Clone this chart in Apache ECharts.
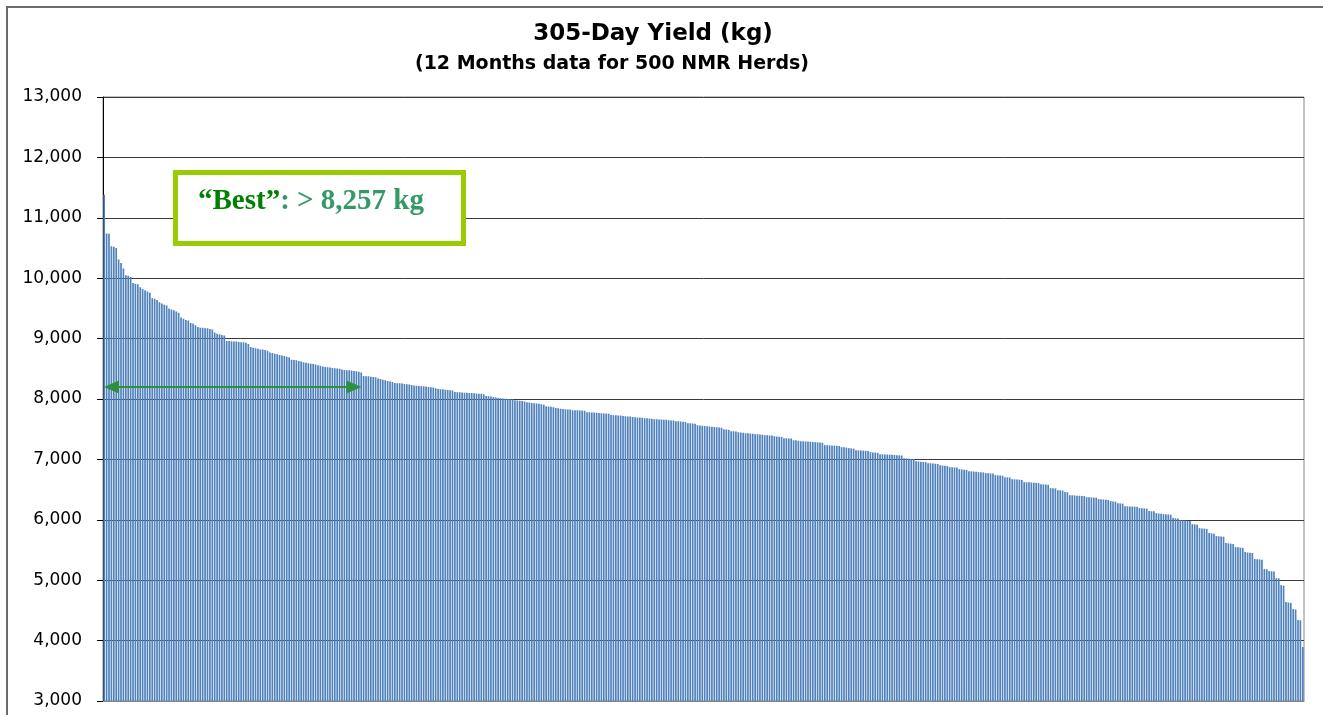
<!DOCTYPE html>
<html>
<head>
<meta charset="utf-8">
<title>305-Day Yield</title>
<script src="https://cdn.jsdelivr.net/npm/echarts@6/dist/echarts.min.js"></script>
<style>
  html, body { margin: 0; padding: 0; background: #fff; }
  #chart { width: 1323px; height: 715px; }
</style>
</head>
<body>
<div id="chart"></div>
<script>
// chart texts
const titleLines = ["305-Day Yield (kg)", "(12 Months data for 500 NMR Herds)"];
const bestLabel = "“Best”";
const bestValueText = ": > 8,257 kg";

// y axis: 3,000 .. 13,000 step 1,000
const yMin = 3000;
const yMax = 13000;
const yStep = 1000;

// the "best" arrow: from herd rank to herd rank, at this yield
const bestArrowFrom = 3;
const bestArrowTo = 104;
const bestArrowValue = 8200;

// 305-day yield per herd (kg), sorted high to low
const herdYield = [
  // 0-14
  11380, 10740, 10735, 10530, 10520, 10500, 10310, 10250, 10160, 10050, 10040, 10020, 9920, 9910, 9900,
  // 15-38
  9850, 9820, 9800, 9780, 9760, 9670, 9660, 9640, 9600, 9580, 9560, 9550, 9500, 9480, 9470, 9450, 9430, 9350, 9330, 9310, 9300, 9260, 9250, 9220,
  // 39-60
  9190, 9180, 9180, 9170, 9170, 9160, 9150, 9100, 9080, 9070, 9060, 9050, 8960, 8960, 8955, 8950, 8950, 8945, 8940, 8940, 8930, 8910,
  // 61-77
  8860, 8850, 8840, 8830, 8820, 8820, 8810, 8800, 8770, 8760, 8750, 8740, 8730, 8720, 8710, 8700, 8690,
  // 78-99
  8650, 8645, 8640, 8630, 8620, 8610, 8600, 8590, 8585, 8580, 8570, 8560, 8550, 8540, 8530, 8525, 8520, 8515, 8510, 8505, 8500, 8490,
  // 100-120
  8480, 8478, 8475, 8470, 8465, 8460, 8450, 8440, 8380, 8378, 8375, 8370, 8365, 8360, 8340, 8330, 8320, 8310, 8300, 8290, 8280,
  // 121-138
  8265, 8262, 8260, 8257, 8250, 8245, 8240, 8230, 8225, 8220, 8215, 8212, 8210, 8205, 8200, 8195, 8190, 8180,
  // 139-158
  8165, 8162, 8160, 8155, 8150, 8145, 8140, 8115, 8112, 8110, 8108, 8105, 8102, 8100, 8098, 8095, 8090, 8088, 8085, 8080,
  // 159-179
  8050, 8045, 8040, 8035, 8025, 8015, 8012, 8010, 8005, 8002, 8000, 7995, 7980, 7975, 7970, 7965, 7960, 7945, 7940, 7935, 7930,
  // 180-200
  7925, 7920, 7912, 7905, 7880, 7875, 7870, 7865, 7850, 7845, 7840, 7835, 7830, 7828, 7825, 7815, 7815, 7812, 7810, 7808, 7805,
  // 201-224
  7780, 7780, 7778, 7775, 7772, 7770, 7765, 7762, 7760, 7755, 7735, 7732, 7730, 7728, 7725, 7720, 7715, 7712, 7710, 7700, 7698, 7695, 7692, 7690,
  // 225-246
  7682, 7680, 7678, 7675, 7666, 7664, 7662, 7660, 7658, 7655, 7649, 7646, 7643, 7632, 7630, 7628, 7625, 7620, 7600, 7598, 7595, 7590,
  // 247-270
  7566, 7562, 7558, 7555, 7550, 7545, 7540, 7535, 7533, 7530, 7525, 7500, 7495, 7490, 7467, 7464, 7460, 7450, 7445, 7440, 7434, 7432, 7430, 7425,
  // 271-299
  7417, 7415, 7412, 7410, 7401, 7398, 7396, 7395, 7384, 7380, 7376, 7372, 7351, 7349, 7347, 7345, 7318, 7315, 7310, 7302, 7300, 7298, 7296, 7294, 7290, 7285, 7282, 7280, 7276,
  // 300-322
  7236, 7234, 7232, 7230, 7228, 7225, 7222, 7203, 7200, 7195, 7186, 7182, 7178, 7153, 7150, 7148, 7146, 7144, 7140, 7120, 7116, 7112, 7108,
  // 323-347
  7087, 7085, 7083, 7081, 7079, 7077, 7075, 7070, 7068, 7065, 7020, 7016, 7012, 7008, 7005, 6970, 6966, 6962, 6958, 6955, 6938, 6935, 6932, 6928, 6925,
  // 348-374
  6905, 6900, 6895, 6890, 6871, 6869, 6867, 6865, 6838, 6834, 6830, 6825, 6805, 6802, 6799, 6796, 6789, 6787, 6785, 6772, 6770, 6768, 6765, 6739, 6736, 6733, 6730,
  // 375-401
  6706, 6703, 6700, 6673, 6670, 6667, 6664, 6660, 6623, 6622, 6620, 6618, 6615, 6612, 6608, 6590, 6587, 6584, 6580, 6524, 6522, 6520, 6491, 6488, 6484, 6460, 6455,
  // 402-424
  6408, 6406, 6403, 6400, 6398, 6395, 6392, 6375, 6373, 6370, 6368, 6366, 6342, 6339, 6336, 6332, 6328, 6309, 6305, 6300, 6276, 6272, 6268,
  // 425-447
  6226, 6224, 6222, 6220, 6218, 6216, 6193, 6190, 6188, 6185, 6144, 6142, 6140, 6110, 6105, 6100, 6094, 6091, 6088, 6085, 6028, 6024, 6020,
  // 448-470
  5995, 5992, 5988, 5984, 5980, 5928, 5924, 5920, 5862, 5858, 5855, 5850, 5780, 5775, 5770, 5730, 5727, 5724, 5720, 5614, 5610, 5605, 5600,
  // 471-499
  5548, 5544, 5540, 5535, 5465, 5460, 5455, 5450, 5350, 5347, 5344, 5340, 5184, 5180, 5151, 5148, 5145, 5035, 5030, 4919, 4910, 4638, 4630, 4625, 4522, 4515, 4340, 4335, 3893
];

// herd ranks, one category per herd (no labels shown)
const herdRank = herdYield.map((v, i) => String(i + 1));

const chart = echarts.init(document.getElementById("chart"));

const option = {
  animation: false,
  backgroundColor: "#fff",
  grid: {
    left: 103,
    right: 19,
    top: 97,
    bottom: 14,
    show: true,
    borderColor: "#868686",
    borderWidth: 1,
    containLabel: false,
  },
  xAxis: {
    type: "category",
    data: herdRank,
    axisLabel: { show: false },
    axisTick: { show: false },
    axisLine: { show: true, lineStyle: { color: "#868686", width: 1 } },
    splitLine: { show: false },
  },
  yAxis: {
    type: "value",
    min: yMin,
    max: yMax,
    interval: yStep,
    axisLine: { show: true, lineStyle: { color: "#000", width: 1 } },
    axisTick: { show: true, inside: false, length: 6, lineStyle: { color: "#000" } },
    axisLabel: {
      margin: 21,
      color: "#000",
      fontFamily: "DejaVu Sans",
      fontSize: 17,
      formatter: (v) => v.toLocaleString("en-US"),
    },
    splitLine: { show: true, lineStyle: { color: "#3a3a3a", width: 1 } },
  },
  series: [
    {
      type: "bar",
      data: herdYield,
      barCategoryGap: "30%",
      itemStyle: { color: "#4F81BD" },
      silent: true,
      markLine: {
        silent: true,
        symbol: ["triangle", "triangle"],
        symbolSize: [13, 15],
        label: { show: false },
        lineStyle: { color: "#2f8f3f", width: 2, type: "solid" },
        data: [
          [
            { coord: [bestArrowFrom, bestArrowValue] },
            { coord: [bestArrowTo, bestArrowValue] },
          ],
        ],
      },
    },
  ],
  graphic: [
    {
      // outer frame of the picture
      type: "rect",
      z: 0,
      shape: { x: 7, y: 7, width: 1340, height: 740 },
      style: { fill: "none", stroke: "#6b6b6b", lineWidth: 2 },
    },
    {
      type: "text",
      x: 653,
      y: 34,
      style: {
        text: titleLines[0],
        font: 'bold 23px "DejaVu Sans"',
        fill: "#000",
        align: "center",
        verticalAlign: "middle",
      },
    },
    {
      type: "text",
      x: 612,
      y: 64,
      style: {
        text: titleLines[1],
        font: 'bold 19px "DejaVu Sans"',
        fill: "#000",
        align: "center",
        verticalAlign: "middle",
      },
    },
    {
      type: "rect",
      z: 10,
      shape: { x: 175.5, y: 172.5, width: 288, height: 71 },
      style: { fill: "#fff", stroke: "#99CC00", lineWidth: 5 },
    },
    {
      type: "text",
      z: 11,
      x: 198,
      y: 202,
      style: {
        text: "{a|" + bestLabel + "}{b|" + bestValueText + "}",
        verticalAlign: "middle",
        rich: {
          a: { font: 'bold 29px "Liberation Serif"', fill: "#008000" },
          b: { font: 'bold 29px "Liberation Serif"', fill: "#339966" },
        },
      },
    },
  ],
};

chart.setOption(option);
</script>
</body>
</html>
